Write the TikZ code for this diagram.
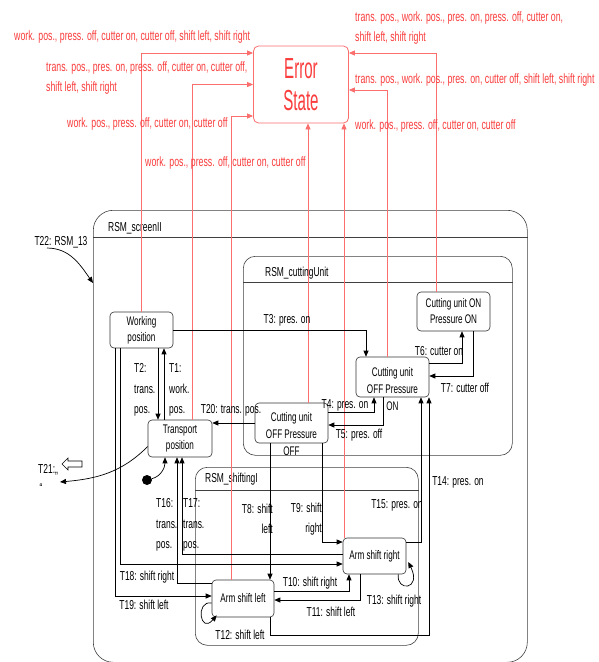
\documentclass[tikz,border=0pt]{standalone}
\usepackage{fontspec}
\setmainfont{Liberation Sans}[FakeStretch=0.65]
\newfontfamily\errfont{Liberation Sans}[FakeStretch=0.52]
\usetikzlibrary{arrows.meta,positioning,calc}
\definecolor{errred}{RGB}{250,60,60}
\definecolor{errline}{RGB}{250,110,110}

\begin{document}
\begin{tikzpicture}[x=1pt,y=-1pt,
  state/.style={draw=black!80, rounded corners=4pt, line width=0.6pt, align=center, inner sep=0pt, font=\fontsize{12.5}{16}\selectfont},
  stxt/.style={inner sep=0pt, align=center, font=\fontsize{12.5}{17}\selectfont},
  cluster/.style={draw=black!75, line width=0.6pt, inner sep=0pt},
  tlbl/.style={inner sep=0pt, font=\fontsize{13}{20.5}\selectfont, align=left},
  elbl/.style={inner sep=0pt, text=errred, font=\fontsize{13.5}{20}\selectfont, align=left, anchor=west},
  trans/.style={line width=0.7pt, -{Triangle[length=6pt,width=5pt]}},
  etrans/.style={errline, line width=0.8pt, -{Triangle[length=6pt,width=5pt]}}]
\useasboundingbox (0,0) rectangle (599,662);
\fill[white] (0,0) rectangle (599,662);

% nested machines
\node[cluster, rounded corners=20pt, minimum width=434pt, minimum height=452pt, anchor=north west] (screen) at (93,210) {};
\node[cluster, rounded corners=12pt, minimum width=269pt, minimum height=199pt, anchor=north west] (cutting) at (243,256) {};
\node[cluster, rounded corners=12pt, minimum width=223pt, minimum height=178pt, anchor=north west] (shifting) at (195,467) {};
\draw[cluster] (screen.west |- 0,237) -- (screen.east |- 0,237);
\draw[cluster] (cutting.west |- 0,282) -- (cutting.east |- 0,282);
\draw[cluster] (shifting.west |- 0,490) -- (shifting.east |- 0,490);
\node[tlbl, anchor=west] (lscreen) at (108,228) {RSM\_screenII};
\node[tlbl, anchor=west] (lcutting) at (265,273) {RSM\_cuttingUnit};
\node[tlbl, anchor=west] (lshifting) at (205,479) {RSM\_shiftingI};

% states
\node[state, minimum width=63pt, minimum height=36pt] (work) at (141.5,330) {Working\\position};
\node[state, minimum width=64pt, minimum height=37pt] (trans) at (180,438.5) {Transport\\position};
\node[state, minimum width=73pt, minimum height=39pt] (onon) at (453.5,311.5) {Cutting unit ON\\Pressure ON};
\node[state, minimum width=73pt, minimum height=40pt] (offon) at (392.5,377) {};
\node[stxt] (offonT) at ([yshift=-12pt]offon.center) {Cutting unit\\OFF Pressure\\ON};
\node[state, minimum width=73pt, minimum height=40pt] (offoff) at (291.5,423) {};
\node[stxt] (offoffT) at ([yshift=-11pt]offoff.center) {Cutting unit\\OFF Pressure\\OFF};
\node[state, minimum width=63pt, minimum height=36pt] (right) at (374.5,556) {Arm shift right};
\node[state, minimum width=62pt, minimum height=37pt] (left) at (243,598.5) {Arm shift left};
\node[circle, fill, inner sep=0pt, minimum size=10pt] (init) at (147,480) {};
\node[draw=errline, line width=0.8pt, text=errred, rounded corners=5pt, minimum width=95pt, minimum height=77pt, align=center, font=\errfont\fontsize{29}{32}\selectfont] (err) at (301,84.5) {Error\\State};

% error transitions
\draw[etrans] (work.north) |- ([yshift=31.5pt]err.west);
\draw[etrans] (trans.north -| 192,0) |- (err.west);
\draw[etrans] (left.north -| 231,0) |- ([yshift=-31.5pt]err.west);
\draw[etrans] (offoff.north -| 308,0) -- (err.south -| 308,0);
\draw[etrans] (right.north -| 344,0) -- (err.south -| 344,0);
\draw[etrans] (offon.north -| 387,0) |- ([yshift=-5.5pt]err.east);
\draw[etrans] (onon.north -| 436,0) |- ([yshift=31.5pt]err.east);
\node[elbl] (e1) at (14,37) {work. pos., press. off, cutter on, cutter off, shift left, shift right};
\node[elbl] (e2) at (46,78) {trans. pos., pres. on, press. off, cutter on, cutter off,\\shift left, shift right};
\node[elbl] (e3) at (67,124) {work. pos., press. off, cutter on, cutter off};
\node[elbl] (e4) at (145,163) {work. pos., press. off, cutter on, cutter off};
\node[elbl] (e5) at (355,28) {trans. pos., work. pos., pres. on, press. off, cutter on,\\shift left, shift right};
\node[elbl] (e6) at (355,80) {trans. pos., work. pos., pres. on, cutter off, shift left, shift right};
\node[elbl] (e7) at (355,126) {work. pos., press. off, cutter on, cutter off};

% transition labels
\node[tlbl] (t22) at (61,242) {T22: RSM\_13};
\node[tlbl, anchor=west] (t1) at (169,390) {T1:\\work.\\pos.};
\node[tlbl, anchor=west] (t2) at (134,390) {T2:\\trans.\\pos.};
\node[tlbl] (t3) at (287,320) {T3: pres. on};
\node[tlbl] (t20) at (231,410) {T20: trans. pos.};
\node[tlbl] (t4) at (345,405) {T4: pres. on};
\node[tlbl] (t5) at (359,435) {T5: pres. off};
\node[tlbl] (t6) at (439,351) {T6: cutter on};
\node[tlbl] (t7) at (465,388) {T7: cutter off};
\node[tlbl] (t14) at (458,482) {T14: pres. on};
\node[tlbl] (t15) at (397,505) {T15: pres. on};
\node[tlbl, anchor=east, align=right] (t8) at (273,519) {T8: shift\\left};
\node[tlbl, anchor=east, align=right] (t9) at (322,519) {T9: shift\\right};
\node[tlbl, anchor=west] (t16) at (156,525) {T16:\\trans.\\pos.};
\node[tlbl, anchor=west] (t17) at (183,525) {T17:\\trans.\\pos.};
\node[tlbl] (t18) at (147,577) {T18: shift right};
\node[tlbl] (t19) at (144,605) {T19: shift left};
\node[tlbl] (t10) at (310,583) {T10: shift right};
\node[tlbl] (t11) at (331,612) {T11: shift left};
\node[tlbl] (t12) at (240,635) {T12: shift left};
\node[tlbl] (t13) at (394,601) {T13: shift right};
\node[tlbl, anchor=west] (t21) at (38,470) {T21:„};
\node[tlbl] (t21b) at (41,488) {“};
\draw[line width=0.6pt] (62,464) -- (68,458) -- (68,461) -- (82,461) -- (82,467) -- (68,467) -- (68,470) -- cycle;

% transitions
\draw[trans] ([xshift=-14pt]t22.south) to[out=0,in=125] (screen.west |- 0,283);
\draw[trans] (trans.north -| 164,0) -- (work.south -| 164,0);
\draw[trans] (work.south -| 158,0) -- (trans.north -| 158,0);
\draw[trans] (work.east) -| (offon.north -| 366,0);
\draw[trans] (offoff.west) -- (offoff.west -| trans.east);
\draw[trans] (offoff.east |- 0,412) -| (offon.south -| 374,0);
\draw[trans] (offon.south -| 383,0) |- (offoff.east |- 0,425);
\draw[trans] (offon.east |- 0,363) -| (onon.south -| 462,0);
\draw[trans] (onon.south -| 473,0) |- (offon.east |- 0,376);
\draw[trans] (offoff.south -| 270,0) -- (left.north -| 270,0);
\draw[trans] (offoff.south -| 322,0) |- (right.west |- 0,542);
\draw[trans] (left.east |- 0,591) -| (right.south -| 349,0);
\draw[trans] (right.south -| 360,0) |- (left.east |- 0,600);
\draw[trans] ([yshift=-4.5pt]left.west) .. controls (195,600) and (200,635) .. ([xshift=5pt,yshift=2pt]left.south west);
\draw[trans] ([xshift=-8pt]right.south east) .. controls (396,592) and (422,590) .. ([xshift=2pt,yshift=-6pt]right.east);
\draw[trans] (left.south -| 270,0) |- (429,635) -- (offon.south -| 429,0);
\draw[trans] (right.east |- 0,542) -| (offon.south -| 421,0);
\draw[trans] (left.west |- 0,583) -| (trans.south -| 177,0);
\draw[trans] (right.west |- 0,554) -| (trans.south -| 182,0);
\draw[trans] (work.south -| 120,0) |- (right.west |- 0,564);
\draw[trans] (work.south -| 115,0) |- (left.west |- 0,596);
\draw[trans] ([yshift=-8pt]trans.west) to[out=225,in=5] (60,482);
\draw[trans] (init) to[out=15,in=-90] (trans.south -| 165,0);
\end{tikzpicture}
\end{document}
